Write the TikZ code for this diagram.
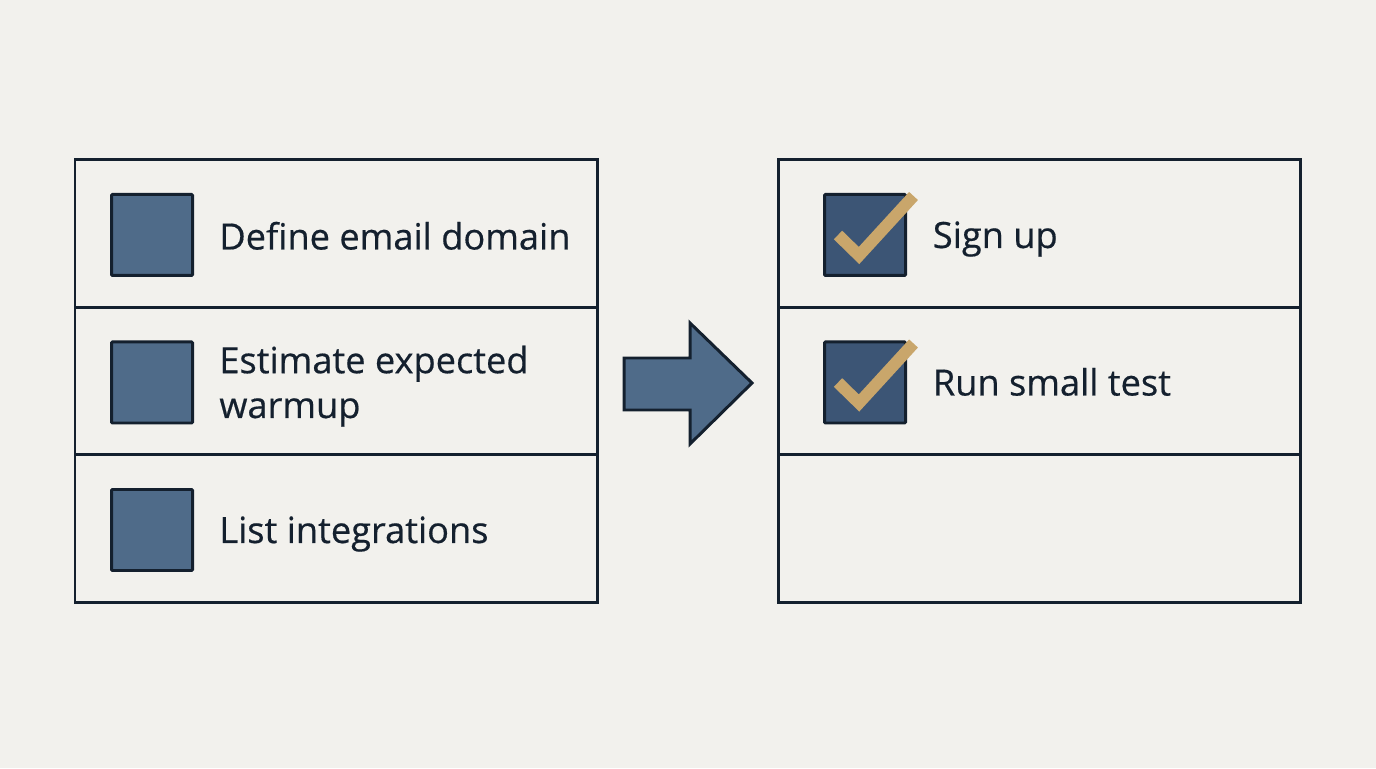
\documentclass[tikz,border=0pt]{standalone}
\usepackage{fontspec}
\setmainfont{Open Sans}
\newfontfamily\letraTarea{Open Sans}[FakeBold=0.45]
\definecolor{fondoHoja}{HTML}{F2F1ED}
\definecolor{tintaOsc}{HTML}{14202E}
\definecolor{cajaAzul}{HTML}{4F6B89}
\definecolor{cajaHecha}{HTML}{3C5575}
\definecolor{marcaOro}{HTML}{C9A66B}
\usetikzlibrary{
	positioning,
	calc
}
\tikzset{
	filaLista/.style={
		draw=tintaOsc,
		line width=1.7pt,
		minimum width=10.44cm,
		minimum height=2.95cm,
		inner sep=0pt
	},
	casilla/.style={
		draw=tintaOsc,
		line width=1.7pt,
		fill=cajaAzul,
		rounded corners=0.6pt,
		minimum size=1.62cm,
		inner sep=0pt
	},
	casillaHecha/.style={
		casilla,
		fill=cajaHecha
	},
	textoTarea/.style={
		anchor=base west,
		align=left,
		text=tintaOsc,
		font=\letraTarea\fontsize{20.6}{25.5}\selectfont,
		inner sep=0pt
	},
	palomita/.style={
		draw=marcaOro,
		line width=6.8pt
	},
	flechaGorda/.style={
		draw=tintaOsc,
		line width=1.7pt,
		fill=cajaAzul,
		line join=miter
	}
}
\begin{document}
\begin{tikzpicture}
	\fill[fondoHoja] (0,0) rectangle (27.52,15.36);
	\useasboundingbox (0,0) rectangle (27.52,15.36);
	% filas de las dos listas
	\foreach \i/\y in {1/10.69,2/7.74,3/4.79}{
		\node[filaLista] (izq\i) at (6.72,\y) {};
		\node[filaLista] (der\i) at (20.79,\y) {};
	}
	% tareas pendientes
	\foreach \i/\lab/\dy in {1/Define email domain/-0.29,2/{Estimate expected\\warmup}/-0.71,3/List integrations/-0.26}{
		\node[casilla] (cajaIzq\i) at ($(izq\i.west)+(1.57,-0.03)$) {};
		\node[textoTarea] (tareaIzq\i) at ($(cajaIzq\i.east)+(0.50,\dy)$) {\lab};
	}
	% tareas hechas
	\foreach \i/\lab in {1/Sign up,2/Run small test}{
		\node[casillaHecha] (cajaDer\i) at ($(der\i.west)+(1.76,-0.03)$) {};
		\node[textoTarea] (tareaDer\i) at ($(cajaDer\i.east)+(0.51,-0.26)$) {\lab};
		\draw[palomita] ($(cajaDer\i)+(-0.54,0)$) -- ($(cajaDer\i)+(-0.12,-0.41)$) -- ($(cajaDer\i)+(0.97,0.78)$);
	}
	% flecha entre listas
	\draw[flechaGorda] (12.48,8.2) -- (13.8,8.2) -- (13.8,8.9) -- (15.04,7.7)
		-- (13.8,6.48) -- (13.8,7.16) -- (12.48,7.16) -- cycle;
\end{tikzpicture}
\end{document}
